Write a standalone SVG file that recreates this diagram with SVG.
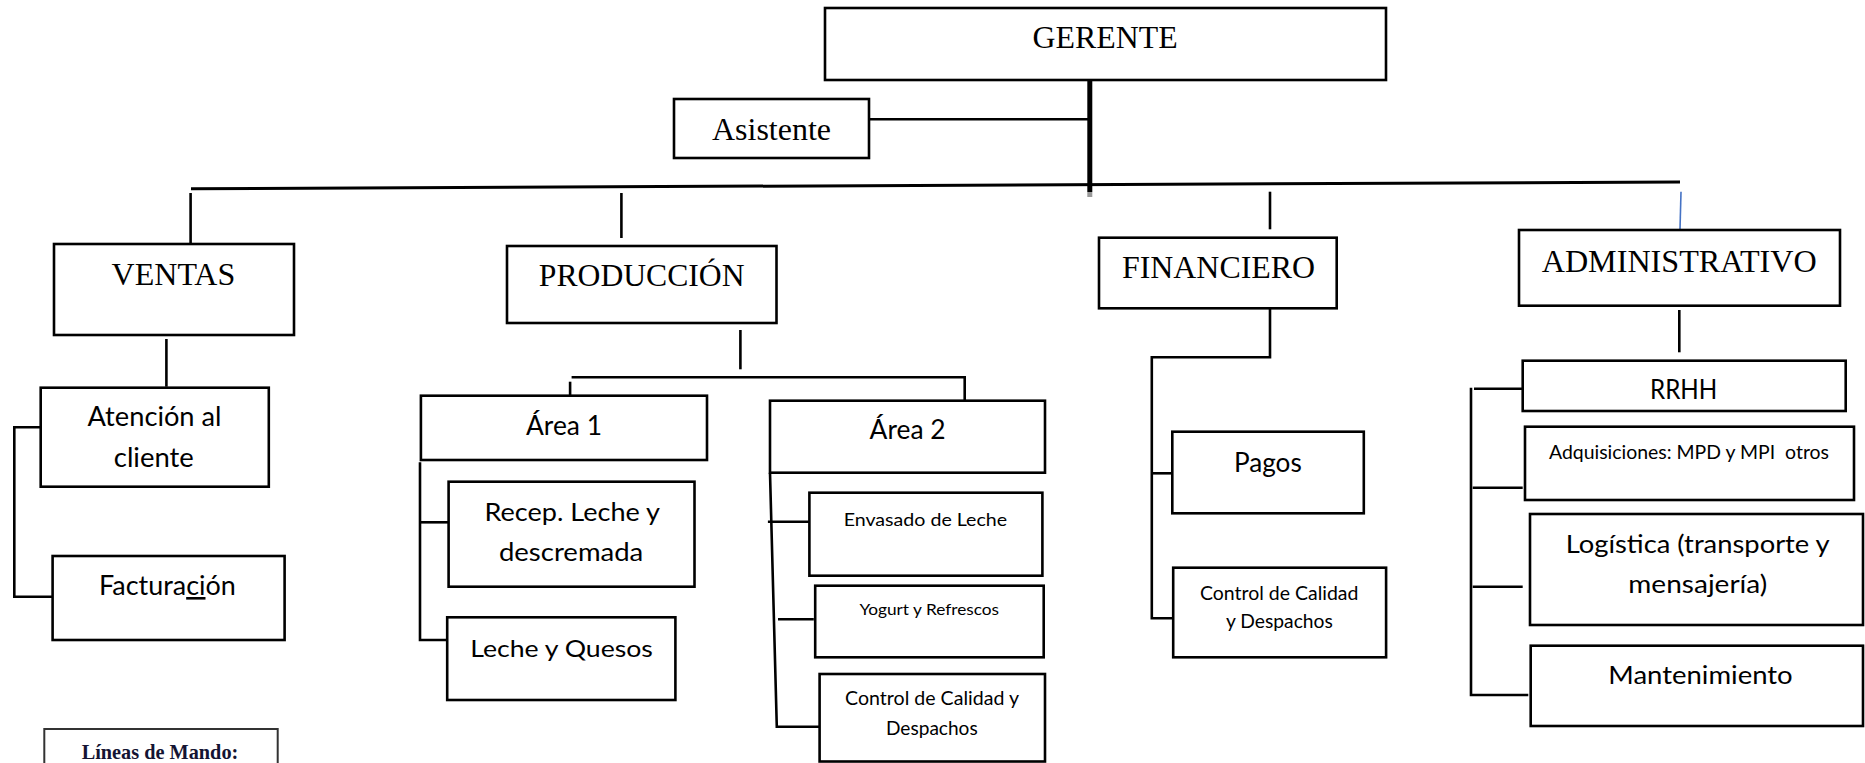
<svg xmlns="http://www.w3.org/2000/svg" width="1865" height="763" viewBox="0 0 1865 763">
<style>
.bg{fill:#ffffff}
.box{fill:#ffffff;stroke:#000000;stroke-width:2.6}
.ln{fill:none;stroke:#000000;stroke-width:2.6}
.tr{font-family:"Liberation Serif","Times New Roman",serif;font-size:32px;fill:#000000}
.ca{font-family:Lato,"Liberation Sans",sans-serif;fill:#000000}
.ul{text-decoration:underline}
</style>
<rect class="bg" x="0" y="0" width="1865" height="763"/>
<g id="connectors">
<line class="ln" x1="869" y1="119.3" x2="1090" y2="119.3"/>
<line class="ln" x1="1089.8" y1="80" x2="1089.8" y2="192" style="stroke-width:5"/>
<line x1="1089.8" y1="192" x2="1089.8" y2="197" style="stroke:#999999;stroke-width:5"/>
<line class="ln" x1="191" y1="188.7" x2="1680" y2="182" style="stroke-width:3"/>
<line class="ln" x1="190.6" y1="193" x2="190.6" y2="243"/>
<line class="ln" x1="621.4" y1="193" x2="621.4" y2="238"/>
<line class="ln" x1="1270" y1="191.7" x2="1270" y2="229.3"/>
<line x1="1681" y1="191.7" x2="1680" y2="229.3" style="stroke:#4472c4;stroke-width:1.6"/>
<line class="ln" x1="166.4" y1="339" x2="166.4" y2="386.7"/>
<path class="ln" d="M40.7 427.3 H14.3 V596.7 H52.6"/>
<line class="ln" x1="740.4" y1="330" x2="740.4" y2="369.3"/>
<path class="ln" d="M571.6 377.3 H964.7 V400"/>
<line class="ln" x1="570.1" y1="381.7" x2="570.1" y2="395.7"/>
<path class="ln" d="M420 462.3 V640 H449.6"/>
<line class="ln" x1="420" y1="522.3" x2="448.6" y2="522.3"/>
<path class="ln" d="M770 472.7 L776.8 726.7 H819.6"/>
<line class="ln" x1="767.9" y1="521.7" x2="809.4" y2="521.7"/>
<line class="ln" x1="778" y1="619.3" x2="813.8" y2="619.3"/>
<path class="ln" d="M1270 306 V357.3 H1151.8 V618.3 H1173.2"/>
<line class="ln" x1="1151.8" y1="473.3" x2="1172.3" y2="473.3"/>
<line class="ln" x1="1679.3" y1="310" x2="1679.3" y2="352.3"/>
<path class="ln" d="M1471 387.7 V695 H1528.3"/>
<line class="ln" x1="1474" y1="388.7" x2="1525" y2="388.7"/>
<line class="ln" x1="1472.7" y1="487.7" x2="1522.7" y2="487.7"/>
<line class="ln" x1="1472.7" y1="586.7" x2="1522.7" y2="586.7"/>
</g>
<g id="gerente"><rect class="box" x="825" y="8" width="561" height="72"/><text class="tr" x="1032.6" y="48" textLength="145" lengthAdjust="spacingAndGlyphs">GERENTE</text></g>
<g id="asistente"><rect class="box" x="674" y="99" width="195" height="59"/><text class="tr" x="712" y="140" textLength="119" lengthAdjust="spacingAndGlyphs">Asistente</text></g>
<g id="ventas"><rect class="box" x="54" y="244" width="240" height="91"/><text class="tr" x="111.6" y="285" textLength="123.7" lengthAdjust="spacingAndGlyphs">VENTAS</text></g>
<g id="produccion"><rect class="box" x="507" y="246" width="269.5" height="77"/><text class="tr" x="538.8" y="286" textLength="205.8" lengthAdjust="spacingAndGlyphs">PRODUCCIÓN</text></g>
<g id="financiero"><rect class="box" x="1099" y="237.7" width="237.7" height="70.6"/><text class="tr" x="1122" y="277.7" textLength="193" lengthAdjust="spacingAndGlyphs">FINANCIERO</text></g>
<g id="administrativo"><rect class="box" x="1519" y="230" width="321" height="75.7"/><text class="tr" x="1541.7" y="271.7" textLength="275" lengthAdjust="spacingAndGlyphs">ADMINISTRATIVO</text></g>
<g id="atencion"><rect class="box" x="40.7" y="387.7" width="228.1" height="99"/><text class="ca" x="87.5" y="426" font-size="26" textLength="134" lengthAdjust="spacingAndGlyphs">Atención al</text><text class="ca" x="113.8" y="467.3" font-size="26" textLength="80" lengthAdjust="spacingAndGlyphs">cliente</text></g>
<g id="facturacion"><rect class="box" x="52.6" y="556" width="232" height="84"/><text class="ca" x="99" y="595" font-size="26" textLength="136.8" lengthAdjust="spacingAndGlyphs">Factura<tspan class="ul">ci</tspan>ón</text></g>
<g id="area1"><rect class="box" x="420.9" y="395.7" width="286.1" height="64.3"/><text class="ca" x="526" y="435" font-size="26" textLength="76" lengthAdjust="spacingAndGlyphs">Área 1</text></g>
<g id="recep"><rect class="box" x="448.6" y="481.7" width="245.9" height="105"/><text class="ca" x="484.5" y="520.7" font-size="25" textLength="175.5" lengthAdjust="spacingAndGlyphs">Recep. Leche y</text><text class="ca" x="498.9" y="561" font-size="25" textLength="144.4" lengthAdjust="spacingAndGlyphs">descremada</text></g>
<g id="leche-quesos"><rect class="box" x="447.2" y="617.3" width="228.2" height="82.7"/><text class="ca" x="470.2" y="656.7" font-size="24" textLength="182.7" lengthAdjust="spacingAndGlyphs">Leche y Quesos</text></g>
<g id="area2"><rect class="box" x="770" y="400.7" width="275" height="72"/><text class="ca" x="869.6" y="439.3" font-size="26" textLength="76" lengthAdjust="spacingAndGlyphs">Área 2</text></g>
<g id="envasado"><rect class="box" x="809.4" y="492.7" width="233" height="83"/><text class="ca" x="843.7" y="526" font-size="18" textLength="163.4" lengthAdjust="spacingAndGlyphs">Envasado de Leche</text></g>
<g id="yogurt"><rect class="box" x="815.2" y="585.7" width="228.5" height="71.6"/><text class="ca" x="859.4" y="615" font-size="16" textLength="139.7" lengthAdjust="spacingAndGlyphs">Yogurt y Refrescos</text></g>
<g id="control-calidad-produccion"><rect class="box" x="819.6" y="674" width="225.4" height="87.5"/><text class="ca" x="845" y="705" font-size="19" textLength="174" lengthAdjust="spacingAndGlyphs">Control de Calidad y</text><text class="ca" x="886" y="735" font-size="19" textLength="91.7" lengthAdjust="spacingAndGlyphs">Despachos</text></g>
<g id="pagos"><rect class="box" x="1172.3" y="431.7" width="191.5" height="81.6"/><text class="ca" x="1234" y="471.5" font-size="26" textLength="67.7" lengthAdjust="spacingAndGlyphs">Pagos</text></g>
<g id="control-calidad-financiero"><rect class="box" x="1173.2" y="567.7" width="212.9" height="89.6"/><text class="ca" x="1200" y="599.5" font-size="18.5" textLength="158.4" lengthAdjust="spacingAndGlyphs">Control de Calidad</text><text class="ca" x="1225.9" y="628.3" font-size="18.5" textLength="107" lengthAdjust="spacingAndGlyphs">y Despachos</text></g>
<g id="rrhh"><rect class="box" x="1522.7" y="360.7" width="323" height="50.3"/><text class="ca" x="1650" y="399.3" font-size="27" textLength="67.3" lengthAdjust="spacingAndGlyphs">RRHH</text></g>
<g id="adquisiciones"><rect class="box" x="1525" y="426.7" width="329" height="73.3"/><text class="ca" x="1549" y="459.3" font-size="19" textLength="280" lengthAdjust="spacingAndGlyphs" xml:space="preserve">Adquisiciones: MPD y MPI  otros</text></g>
<g id="logistica"><rect class="box" x="1530" y="514" width="333" height="111"/><text class="ca" x="1565.7" y="552.7" font-size="25" textLength="264" lengthAdjust="spacingAndGlyphs">Logística (transporte y</text><text class="ca" x="1628.3" y="593.3" font-size="25" textLength="139" lengthAdjust="spacingAndGlyphs">mensajería)</text></g>
<g id="mantenimiento"><rect class="box" x="1530.7" y="645.7" width="332.3" height="80.3"/><text class="ca" x="1608.3" y="684" font-size="25" textLength="184.4" lengthAdjust="spacingAndGlyphs">Mantenimiento</text></g>
<g id="lineas-de-mando"><rect x="44.3" y="729" width="233.4" height="50" style="fill:#ffffff;stroke:#333333;stroke-width:2"/><text x="81.7" y="759" font-family="Liberation Serif, Times New Roman, serif" font-size="22" font-weight="bold" fill="#141433" textLength="156.6" lengthAdjust="spacingAndGlyphs">Líneas de Mando:</text></g>
</svg>
